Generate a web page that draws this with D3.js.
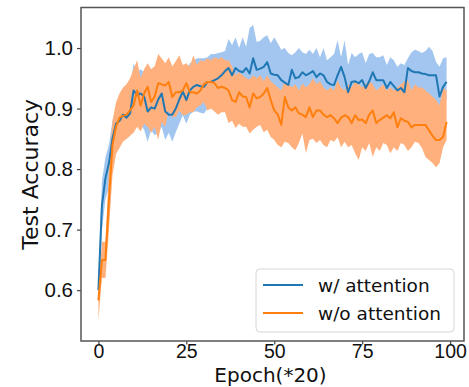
<!DOCTYPE html>
<html>
<head>
<meta charset="utf-8">
<script src="https://cdn.jsdelivr.net/npm/d3@7"></script>
<style>
  body { margin: 0; background: #fff; }
  svg { display: block; font-family: "DejaVu Sans", sans-serif; }
</style>
</head>
<body>
<div id="chart"></div>
<script>
// epochs 0..99 (x axis is Epoch * 20)
const epochs = d3.range(0, 100);
const xTicks = [0, 25, 50, 75, 100];
const yTicks = [0.6, 0.7, 0.8, 0.9, 1.0];

// w/ attention: mean and band
const attnMean = [0.60,0.74,0.785,0.81,0.85,0.875,0.88,0.89,0.885,0.892,
  0.93,0.922,0.925,0.92,0.895,0.902,0.90,0.915,0.925,0.895,
  0.89,0.89,0.90,0.915,0.928,0.914,0.93,0.936,0.939,0.937,
  0.936,0.944,0.944,0.947,0.95,0.955,0.962,0.967,0.955,0.967,
  0.962,0.96,0.967,0.958,0.983,0.964,0.966,0.969,0.977,0.958,
  0.956,0.955,0.947,0.943,0.939,0.964,0.95,0.952,0.96,0.955,
  0.958,0.962,0.952,0.958,0.955,0.944,0.94,0.939,0.955,0.969,
  0.952,0.927,0.944,0.945,0.942,0.947,0.934,0.945,0.96,0.947,
  0.947,0.947,0.934,0.944,0.937,0.93,0.934,0.927,0.967,0.962,
  0.96,0.96,0.958,0.957,0.955,0.955,0.955,0.92,0.936,0.944];
const attnUpper = [0.62,0.78,0.82,0.84,0.88,0.90,0.91,0.92,0.93,0.93,
  0.975,0.96,0.965,0.96,0.94,0.94,0.935,0.95,0.96,0.935,
  0.93,0.935,0.945,0.96,0.97,0.96,0.975,0.978,0.983,0.983,
  0.983,0.985,0.99,0.99,0.992,0.993,0.995,1.015,1.005,1.018,
  1.0,1.018,1.002,1.033,1.038,1.01,1.012,1.018,1.021,1.008,
  1.018,1.008,0.997,1.0,0.992,0.988,0.993,1.0,0.993,0.99,
  0.997,0.99,1.0,0.985,1.0,0.98,0.985,0.99,1.013,0.985,
  1.013,0.972,0.992,0.985,0.99,0.993,0.975,0.99,0.992,0.985,
  0.985,0.988,0.972,0.985,0.98,0.969,0.975,0.972,0.983,0.993,
  0.997,0.995,0.992,0.995,1.002,0.995,0.977,0.969,0.983,0.985];
const attnLower = [0.58,0.70,0.75,0.77,0.81,0.84,0.85,0.855,0.85,0.855,
  0.885,0.88,0.875,0.865,0.845,0.864,0.856,0.86,0.87,0.848,
  0.86,0.845,0.861,0.875,0.889,0.875,0.89,0.895,0.895,0.893,
  0.892,0.90,0.90,0.905,0.905,0.915,0.92,0.925,0.91,0.92,
  0.92,0.915,0.925,0.91,0.93,0.92,0.92,0.925,0.93,0.91,
  0.91,0.905,0.90,0.895,0.895,0.92,0.905,0.925,0.92,0.914,
  0.92,0.925,0.915,0.92,0.925,0.93,0.914,0.91,0.92,0.925,
  0.915,0.905,0.914,0.92,0.915,0.92,0.91,0.92,0.93,0.92,
  0.92,0.915,0.905,0.915,0.91,0.905,0.909,0.905,0.925,0.92,
  0.92,0.92,0.915,0.915,0.91,0.905,0.897,0.89,0.91,0.915];

// w/o attention: mean and band
const noAttnMean = [0.583,0.65,0.65,0.75,0.84,0.87,0.885,0.888,0.89,0.897,
  0.905,0.93,0.905,0.925,0.936,0.911,0.92,0.942,0.94,0.938,
  0.944,0.919,0.927,0.927,0.93,0.942,0.927,0.927,0.925,0.93,
  0.94,0.944,0.944,0.942,0.934,0.936,0.934,0.93,0.914,0.911,
  0.927,0.92,0.919,0.902,0.925,0.917,0.919,0.925,0.934,0.914,
  0.897,0.89,0.873,0.919,0.902,0.897,0.902,0.892,0.89,0.886,
  0.902,0.886,0.897,0.897,0.89,0.886,0.889,0.884,0.876,0.885,
  0.889,0.886,0.876,0.889,0.881,0.882,0.876,0.89,0.897,0.876,
  0.881,0.885,0.889,0.884,0.894,0.869,0.884,0.88,0.878,0.869,
  0.873,0.873,0.873,0.873,0.864,0.855,0.848,0.848,0.853,0.878];
const noAttnUpper = [0.60,0.68,0.68,0.80,0.88,0.91,0.925,0.935,0.94,0.95,
  0.965,0.98,0.95,0.965,0.975,0.965,0.97,0.99,0.983,0.975,
  0.985,0.97,0.978,0.988,0.972,0.975,0.969,0.988,0.972,0.98,
  0.978,0.983,0.98,0.985,0.982,0.985,0.98,0.98,0.97,0.955,
  0.96,0.955,0.95,0.948,0.955,0.95,0.955,0.945,0.955,0.945,
  0.94,0.935,0.93,0.945,0.94,0.935,0.94,0.93,0.942,0.935,
  0.94,0.95,0.94,0.945,0.935,0.93,0.935,0.93,0.947,0.935,
  0.93,0.94,0.935,0.945,0.94,0.935,0.94,0.945,0.94,0.93,
  0.935,0.94,0.93,0.935,0.93,0.935,0.94,0.945,0.947,0.93,
  0.94,0.935,0.935,0.93,0.925,0.92,0.914,0.905,0.934,0.93];
const noAttnLower = [0.55,0.62,0.62,0.70,0.79,0.825,0.835,0.845,0.85,0.855,
  0.86,0.87,0.862,0.875,0.87,0.86,0.87,0.848,0.878,0.87,
  0.897,0.886,0.886,0.897,0.889,0.89,0.894,0.894,0.902,0.905,
  0.911,0.897,0.90,0.895,0.89,0.894,0.894,0.876,0.88,0.868,
  0.875,0.87,0.87,0.859,0.865,0.87,0.873,0.861,0.865,0.853,
  0.848,0.84,0.836,0.845,0.843,0.836,0.831,0.843,0.859,0.826,
  0.848,0.85,0.843,0.848,0.84,0.836,0.848,0.845,0.853,0.836,
  0.845,0.836,0.84,0.826,0.815,0.836,0.83,0.843,0.82,0.836,
  0.83,0.843,0.84,0.826,0.836,0.83,0.843,0.84,0.83,0.836,
  0.845,0.843,0.835,0.82,0.815,0.81,0.803,0.81,0.836,0.848];

const seriesNames = ['w/ attention', 'w/o attention'];

const W = 469, H = 387;
const margin = { top: 7.5, right: 5, bottom: 46, left: 81 };

const svg = d3.select('#chart').append('svg')
  .attr('width', W)
  .attr('height', H);

const x = d3.scaleLinear().domain([-4.95, 103.95]).range([margin.left, W - margin.right]);
const y = d3.scaleLinear().domain([0.516, 1.067]).range([H - margin.bottom, margin.top]);

const series = [
  { name: seriesNames[0], mean: attnMean, lo: attnLower, hi: attnUpper, line: '#1f77b4', band: '#a2c6ef' },
  { name: seriesNames[1], mean: noAttnMean, lo: noAttnLower, hi: noAttnUpper, line: '#ff7f0e', band: '#ffb07c' }
];

const area = d3.area()
  .x((d, i) => x(epochs[i]));
const line = d3.line()
  .x((d, i) => x(epochs[i]))
  .y(d => y(d));

const plot = svg.append('g');

series.forEach(s => {
  plot.append('path')
    .datum(epochs)
    .attr('d', area.y0(i => y(s.lo[i])).y1(i => y(s.hi[i])))
    .attr('fill', s.band)
    .attr('stroke', 'none');
});

series.forEach(s => {
  plot.append('path')
    .datum(s.mean)
    .attr('d', line)
    .attr('fill', 'none')
    .attr('stroke', s.line)
    .attr('stroke-width', 2)
    .attr('stroke-linejoin', 'round');
});

// axes
const xAxis = d3.axisBottom(x).tickValues(xTicks).tickSize(3.5).tickPadding(0).tickFormat(d3.format('d'));
const yAxis = d3.axisLeft(y).tickValues(yTicks).tickSize(4).tickPadding(4).tickFormat(d3.format('.1f'));

const gx = svg.append('g')
  .attr('transform', `translate(0, ${H - margin.bottom})`)
  .call(xAxis);
const gy = svg.append('g')
  .attr('transform', `translate(${margin.left}, 0)`)
  .call(yAxis);

gx.selectAll('.tick text').style('font-size', '19.5px');
gy.selectAll('.tick text').style('font-size', '20.5px');
[gx, gy].forEach(g => {
  g.select('.domain').remove();
  g.selectAll('.tick line').attr('stroke', '#444').attr('stroke-width', 1.2);
  g.selectAll('.tick text').attr('fill', '#111');
});

// frame
svg.append('rect')
  .attr('x', margin.left)
  .attr('y', margin.top)
  .attr('width', W - margin.right - margin.left)
  .attr('height', H - margin.bottom - margin.top)
  .attr('fill', 'none')
  .attr('stroke', '#555')
  .attr('stroke-width', 1.5);

// axis labels
svg.append('text')
  .attr('x', (margin.left + W - margin.right) / 2 - 2)
  .attr('y', 382.2)
  .attr('text-anchor', 'middle')
  .style('font-size', '20px')
  .attr('fill', '#111')
  .text('Epoch(*20)');

svg.append('text')
  .attr('transform', `translate(38, ${(margin.top + H - margin.bottom) / 2}) rotate(-90)`)
  .attr('text-anchor', 'middle')
  .style('font-size', '22px')
  .attr('fill', '#111')
  .text('Test Accuracy');

// legend
const legend = svg.append('g').attr('transform', 'translate(256, 269)');
legend.append('rect')
  .attr('width', 198)
  .attr('height', 63)
  .attr('rx', 4)
  .attr('fill', '#fff')
  .attr('fill-opacity', 0.85)
  .attr('stroke', '#d6d6d6');

series.forEach((s, i) => {
  const ly = 16 + i * 28;
  legend.append('line')
    .attr('x1', 7).attr('x2', 47)
    .attr('y1', ly).attr('y2', ly)
    .attr('stroke', s.line)
    .attr('stroke-width', 2);
  legend.append('text')
    .attr('x', 62)
    .attr('y', ly + 6.5)
    .style('font-size', '18.5px')
    .attr('fill', '#111')
    .text(s.name);
});
</script>
</body>
</html>
